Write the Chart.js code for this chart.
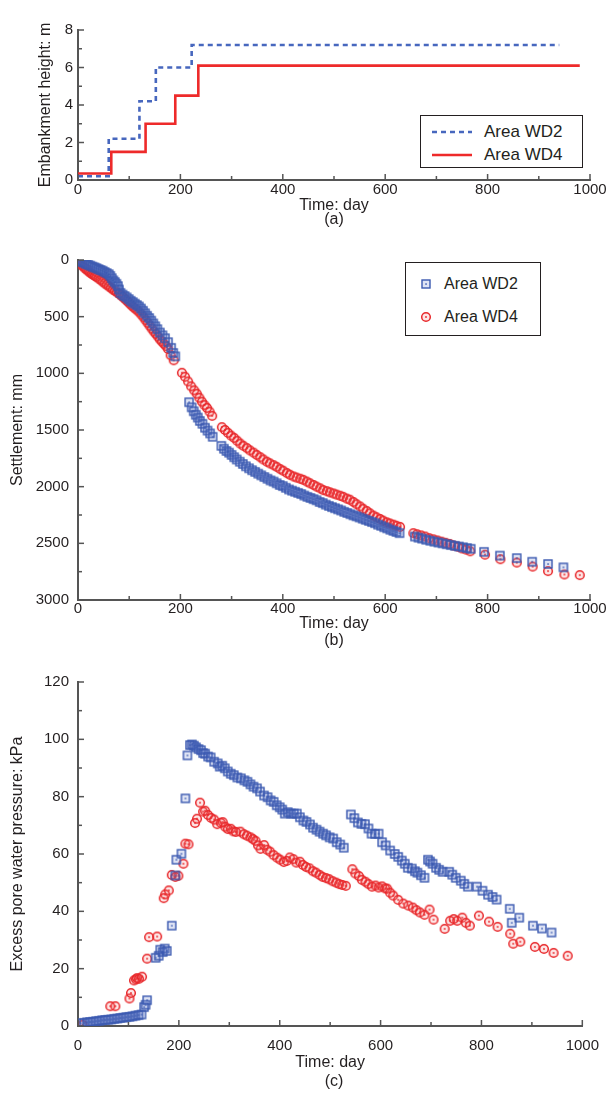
<!DOCTYPE html>
<html><head><meta charset="utf-8">
<script src="https://cdn.jsdelivr.net/npm/chart.js@4.4.0/dist/chart.umd.min.js"></script>
<style>
body{margin:0;background:#fff;width:611px;height:1097px;position:relative;overflow:hidden;font-family:"Liberation Sans",Arial,sans-serif;color:#231f20;}
canvas{position:absolute;left:0;}
.cap{position:absolute;left:0;width:668px;text-align:center;font-size:16px;line-height:18px;}
.leg{position:absolute;border:1px solid #231f20;background:#fff;box-sizing:border-box;}
.leg span{position:absolute;font-size:17px;line-height:20px;white-space:nowrap;}
.leg svg{position:absolute;}
</style></head>
<body>
<canvas id="ca" width="611" height="230" style="top:0"></canvas>
<canvas id="cb" width="611" height="420" style="top:230px"></canvas>
<canvas id="cc" width="611" height="447" style="top:650px"></canvas>
<div class="cap" style="top:210px">(a)</div>
<div class="cap" style="top:631px">(b)</div>
<div class="cap" style="top:1072px">(c)</div>

<div class="leg" style="left:420px;top:115px;width:163px;height:53px;">
  <svg style="left:11px;top:14px" width="40" height="4"><line x1="0" y1="2" x2="40" y2="2" stroke="#4767be" stroke-width="2.6" stroke-dasharray="5,4"/></svg>
  <span style="left:63px;top:6px">Area WD2</span>
  <svg style="left:11px;top:37px" width="40" height="4"><line x1="0" y1="2" x2="40" y2="2" stroke="#ee2a2a" stroke-width="2.6"/></svg>
  <span style="left:63px;top:29px">Area WD4</span>
</div>
<div class="leg" style="left:405px;top:262px;width:136px;height:74px;">
  <svg style="left:14px;top:15px" width="12" height="12"><rect x="2" y="2" width="8" height="8" fill="rgba(90,115,200,0.2)" stroke="#3a59b0" stroke-width="1.4"/><rect x="5.3" y="5.3" width="1.5" height="1.5" fill="#3a59b0"/></svg>
  <span style="left:38px;top:11px;font-size:16px">Area WD2</span>
  <svg style="left:14px;top:48px" width="12" height="12"><circle cx="6" cy="6" r="4.3" fill="rgba(240,90,90,0.15)" stroke="#e8282b" stroke-width="1.5"/><circle cx="6" cy="6" r="0.9" fill="#e8282b"/></svg>
  <span style="left:38px;top:44px;font-size:16px">Area WD4</span>
</div>

<script>
// ---------- DATA ----------
const timeTicks = [0, 200, 400, 600, 800, 1000];
const timeMinorTicks = [100, 300, 500, 700, 900];

// (a) embankment height
const heightTicks = [0, 2, 4, 6, 8];
const heightMinorTicks = [1, 3, 5, 7];
const wd2HeightDay = [0, 60, 120, 152, 222, 940];
const wd2Height    = [0.2, 2.2, 4.2, 6.0, 7.2, 7.2];
const wd4HeightDay = [0, 65, 132, 190, 235, 980];
const wd4Height    = [0.35, 1.5, 3.0, 4.5, 6.1, 6.1];

// (b) settlement
const settleTicks = [0, 500, 1000, 1500, 2000, 2500, 3000];
const settleMinorTicks = [250, 750, 1250, 1750, 2250, 2750];
const wd2SettleDay = [0,4,8,12,16,20,24,28,32,36,40,44,48,52,56,60,63,66,69,72,75,78,80,83,87,91,95,99,103,107,111,115,119,123,127,131,135,139,143,147,151,155,160,165,170,176,182,186,190,
  217,222,226,230,234,238,243,248,253,258,263,
  280,285,290,295,300,305,310,316,322,328,334,340,346,352,358,364,370,376,382,388,394,400,406,412,418,424,430,436,442,448,454,460,466,472,478,484,490,496,502,508,514,520,526,532,538,544,550,556,562,568,574,580,586,592,598,604,610,616,622,628,
  658,665,672,680,688,696,704,712,720,728,736,744,752,760,767,793,824,857,887,918,948];
const wd2Settle = [0,10,18,25,35,42,50,58,65,72,80,88,95,105,115,125,140,160,180,195,210,230,260,290,305,318,330,345,360,372,385,398,410,428,448,470,492,512,535,560,585,610,640,665,690,725,775,820,850,
  1255,1300,1335,1365,1390,1420,1445,1480,1505,1530,1560,
  1640,1665,1685,1700,1720,1740,1760,1780,1800,1820,1838,1855,1870,1885,1900,1915,1930,1945,1955,1970,1985,1995,2010,2025,2035,2045,2055,2065,2078,2090,2100,2110,2120,2135,2145,2158,2170,2180,2190,2200,2210,2222,2232,2243,2253,2262,2272,2282,2292,2302,2312,2322,2335,2345,2358,2368,2380,2390,2400,2410,
  2440,2450,2458,2468,2477,2485,2493,2500,2508,2515,2522,2528,2535,2542,2548,2575,2608,2630,2662,2682,2712];
const wd4SettleDay = [0,3,6,9,12,15,18,21,24,27,30,33,36,40,44,48,52,56,60,64,68,72,76,80,84,88,92,96,100,104,108,112,116,120,124,128,132,136,140,144,148,152,156,160,164,168,172,176,181,187,
  203,209,215,221,227,232,237,242,247,252,257,262,
  281,287,293,299,305,311,317,323,330,336,343,349,356,362,369,375,382,388,395,401,408,414,421,427,434,440,447,453,460,466,473,479,486,492,499,505,512,518,525,531,538,544,551,557,564,570,577,583,590,596,603,609,616,622,629,
  655,662,670,678,686,694,702,710,718,726,734,742,750,758,766,795,825,857,888,918,950,980];
const wd4Settle = [0,20,38,52,65,78,90,100,112,122,132,140,150,162,175,190,205,218,232,245,260,272,285,298,312,328,345,362,380,398,415,430,445,462,482,505,530,555,580,605,630,652,675,700,720,740,760,785,840,885,
  995,1030,1072,1115,1150,1180,1215,1250,1280,1305,1338,1375,
  1475,1500,1525,1550,1570,1595,1620,1640,1660,1680,1700,1720,1740,1760,1780,1795,1810,1825,1845,1860,1880,1895,1910,1920,1930,1940,1955,1970,1985,2000,2015,2030,2040,2050,2060,2070,2080,2090,2105,2115,2135,2155,2175,2195,2215,2235,2255,2270,2285,2300,2315,2325,2335,2345,2355,
  2410,2420,2430,2440,2455,2465,2475,2485,2495,2505,2520,2530,2545,2555,2570,2600,2640,2670,2705,2745,2775,2780];

// (c) excess pore water pressure
const poreTicks = [0, 20, 40, 60, 80, 100, 120];
const poreMinorTicks = [10, 30, 50, 70, 90, 110];
const wd2PoreDay = [5,12,18,24,30,36,42,48,54,60,66,72,78,84,90,96,102,108,114,120,126,131,134,137,
  154,160,163,168,172,176,186,193,195,205,
  213,217,222,226,230,234,239,244,248,252,258,263,270,277,281,286,291,297,303,309,316,323,330,336,342,348,355,361,369,376,382,388,394,400,405,410,416,422,428,434,440,447,453,460,466,473,479,486,492,499,506,513,520,527,
  541,548,555,562,569,576,582,589,596,603,610,619,628,635,642,648,654,662,668,673,680,687,
  694,698,703,710,716,723,736,742,749,759,766,773,791,802,813,822,830,856,860,875,902,920,939];
const wd2Pore = [1.0,1.1,1.3,1.4,1.5,1.7,1.8,2.0,2.1,2.2,2.3,2.5,2.6,2.8,2.9,3.1,3.2,3.4,3.6,3.8,4.0,6.6,7.4,9.0,
  23.8,24.5,26.6,25.8,27.0,26.2,35.0,52.5,58.0,60.1,
  79.4,94.4,98.0,98.2,97.8,97.2,96.6,96.2,95.2,95.0,94.0,93.7,92.2,91.6,90.5,90.8,89.9,88.8,88.0,87.5,86.7,86.4,85.7,85.2,84.3,83.5,82.9,81.8,80.4,79.8,78.7,78.2,77.0,76.3,75.5,74.1,74.6,74.1,74.1,74.1,72.8,71.7,71.2,70.3,69.2,68.5,67.8,67.1,66.5,65.8,65.4,64.1,63.3,62.2,
  73.8,72.5,71.0,70.5,70.4,68.9,67.1,67.0,67.1,64.1,63.0,61.2,60.0,59.0,57.7,56.6,55.2,54.9,54.0,53.5,52.6,51.7,
  58.0,57.4,56.6,55.2,54.5,53.8,53.8,52.8,51.7,50.7,49.6,48.6,48.6,47.2,45.8,45.0,44.1,40.9,36.0,37.8,35.0,34.0,32.6];
const wd4PoreDay = [9,64,74,102,105,111,115,117,121,127,137,141,157,170,173,180,186,193,199,209,213,219,232,236,
  242,248,252,258,264,270,276,283,287,292,297,303,308,313,322,329,335,342,347,352,357,362,369,375,381,388,395,401,408,414,420,427,433,440,446,452,459,466,472,479,485,492,498,505,512,518,524,531,
  544,550,557,563,570,576,583,590,596,603,609,613,619,625,635,645,655,664,671,678,687,697,705,727,738,745,752,762,769,777,795,815,832,857,863,877,906,924,943,971];
const wd4Pore = [0.4,6.9,6.9,9.6,11.5,15.9,16.3,16.7,16.5,17.2,23.5,31.0,31.2,44.6,45.9,47.3,52.7,52.0,52.4,56.6,63.6,63.4,70.8,72.3,
  77.9,74.8,75.1,73.6,72.6,72.0,70.4,70.9,71.1,69.5,68.7,68.8,67.9,67.7,67.8,66.9,66.4,65.8,65.2,64.6,63.0,61.8,63.1,61.5,60.8,59.6,58.7,58.0,57.2,57.6,58.8,58.2,57.0,57.3,56.2,55.5,55.0,54.0,53.5,52.7,52.0,51.6,51.2,50.5,50.0,49.5,49.2,48.9,
  54.7,53.2,52.3,51.0,50.3,49.5,48.6,49.0,48.3,48.7,48.0,47.9,46.5,45.5,44.0,42.7,42.0,41.3,40.4,39.6,38.8,40.6,37.1,33.9,36.7,37.3,36.7,37.8,36.0,35.0,38.5,36.4,34.6,32.2,28.7,29.4,27.6,26.9,25.5,24.5];

// ---------- STYLE HELPERS ----------
const TXT = '#231f20';
const AX = '#555555';
const BLUE = '#3a59b0';
const RED = '#e8282b';
const tickFont = {family: '"Liberation Sans", Arial, sans-serif', size: 15, lineHeight: 1.0};
const titleFont = {family: '"Liberation Sans", Arial, sans-serif', size: 16, lineHeight: 1.2};
const pts = (xs, ys) => xs.map((x, i) => ({x: x, y: ys[i]}));

function squareMarker() {
  const c = document.createElement('canvas'); c.width = 12; c.height = 12;
  const g = c.getContext('2d');
  g.fillStyle = 'rgba(90,115,200,0.2)'; g.fillRect(2, 2, 8, 8);
  g.strokeStyle = BLUE; g.lineWidth = 1.4; g.strokeRect(2, 2, 8, 8);
  g.fillStyle = BLUE; g.fillRect(5.3, 5.3, 1.5, 1.5);
  return c;
}
function circleMarker() {
  const c = document.createElement('canvas'); c.width = 12; c.height = 12;
  const g = c.getContext('2d');
  g.beginPath(); g.arc(6, 6, 4.3, 0, Math.PI * 2);
  g.fillStyle = 'rgba(240,90,90,0.15)'; g.fill();
  g.strokeStyle = RED; g.lineWidth = 1.5; g.stroke();
  g.beginPath(); g.arc(6, 6, 0.9, 0, Math.PI * 2); g.fillStyle = RED; g.fill();
  return c;
}
const SQ = squareMarker(), CI = circleMarker();

const inwardTicks = {
  id: 'inwardTicks',
  afterDraw(chart, args, o) {
    const {ctx, chartArea: a} = chart;
    const xs = chart.scales.x, ys = chart.scales.y;
    ctx.save();
    ctx.strokeStyle = AX; ctx.lineWidth = 1.5;
    const seg = (x1, y1, x2, y2) => { ctx.beginPath(); ctx.moveTo(x1, y1); ctx.lineTo(x2, y2); ctx.stroke(); };
    o.xMajor.forEach(v => { const p = xs.getPixelForValue(v); seg(p, a.bottom, p, a.bottom - 6); });
    o.xMinor.forEach(v => { const p = xs.getPixelForValue(v); seg(p, a.bottom, p, a.bottom - 4); });
    o.yMajor.forEach(v => { const p = ys.getPixelForValue(v); seg(a.left, p, a.left + 6, p); });
    o.yMinor.forEach(v => { const p = ys.getPixelForValue(v); seg(a.left, p, a.left + 4, p); });
    ctx.restore();
  }
};
Chart.register(inwardTicks);

function makeScales(o) {
  return {
    x: {
      type: 'linear', min: 0, max: 1000,
      afterBuildTicks: s => { s.ticks = timeTicks.map(v => ({value: v})); },
      afterFit: s => { s.height = o.xh; },
      grid: {display: false, drawTicks: false},
      border: {display: true, color: AX, width: 2},
      ticks: {padding: o.xpad, font: tickFont, color: TXT, maxRotation: 0, callback: v => String(v)},
      title: {display: true, text: 'Time: day', font: titleFont, color: TXT, padding: {top: 0, bottom: o.tpad}}
    },
    y: {
      type: 'linear', min: o.ymin, max: o.ymax, reverse: !!o.rev,
      afterBuildTicks: s => { s.ticks = o.yticks.map(v => ({value: v})); },
      afterFit: s => { s.width = 78; },
      grid: {display: false, drawTicks: false},
      border: {display: true, color: AX, width: 2},
      ticks: {padding: o.ypad, font: tickFont, color: TXT, callback: v => String(v)},
      title: {display: true, text: o.ytitle, font: titleFont, color: TXT, padding: {top: o.ytp, bottom: 0}}
    }
  };
}
const baseOpts = (pad, scales, ticksOpt) => ({
  responsive: false, animation: false,
  layout: {padding: pad},
  plugins: {legend: {display: false}, tooltip: {enabled: false}, inwardTicks: ticksOpt},
  scales: scales
});

// (a)
new Chart(document.getElementById('ca'), {
  type: 'line',
  data: {datasets: [
    {label: 'Area WD2', data: pts(wd2HeightDay, wd2Height), borderColor: '#4767be', borderWidth: 2.6, borderDash: [5, 4], stepped: true, pointRadius: 0, fill: false},
    {label: 'Area WD4', data: pts(wd4HeightDay, wd4Height), borderColor: '#ee2a2a', borderWidth: 2.6, stepped: true, pointRadius: 0, fill: false}
  ]},
  options: baseOpts({top: 30, right: 21, left: 0, bottom: 0},
    makeScales({xh: 50, xpad: 2, tpad: 15, ymin: 0, ymax: 8, yticks: heightTicks, ypad: 5, ytitle: 'Embankment height: m', ytp: 36}),
    {xMajor: timeTicks, xMinor: timeMinorTicks, yMajor: heightTicks, yMinor: heightMinorTicks})
});

// (b)
new Chart(document.getElementById('cb'), {
  type: 'scatter',
  data: {datasets: [
    {label: 'Area WD2', data: pts(wd2SettleDay, wd2Settle), pointStyle: SQ, pointRadius: 5},
    {label: 'Area WD4', data: pts(wd4SettleDay, wd4Settle), pointStyle: CI, pointRadius: 5}
  ]},
  options: baseOpts({top: 30, right: 21, left: 0, bottom: 0},
    makeScales({xh: 50, xpad: 1, tpad: 17, ymin: 0, ymax: 3000, rev: true, yticks: settleTicks, ypad: 9, ytitle: 'Settlement: mm', ytp: 8}),
    {xMajor: timeTicks, xMinor: timeMinorTicks, yMajor: settleTicks, yMinor: settleMinorTicks})
});

// (c)
new Chart(document.getElementById('cc'), {
  type: 'scatter',
  data: {datasets: [
    {label: 'Area WD2', data: pts(wd2PoreDay, wd2Pore), pointStyle: SQ, pointRadius: 5},
    {label: 'Area WD4', data: pts(wd4PoreDay, wd4Pore), pointStyle: CI, pointRadius: 5}
  ]},
  options: baseOpts({top: 32, right: 21, left: 0, bottom: 0},
    makeScales({xh: 71, xpad: 12, tpad: 25, ymin: 0, ymax: 120, yticks: poreTicks, ypad: 9, ytitle: 'Excess pore water pressure: kPa', ytp: 8}),
    {xMajor: timeTicks, xMinor: timeMinorTicks, yMajor: poreTicks, yMinor: poreMinorTicks})
});
</script>
</body></html>
